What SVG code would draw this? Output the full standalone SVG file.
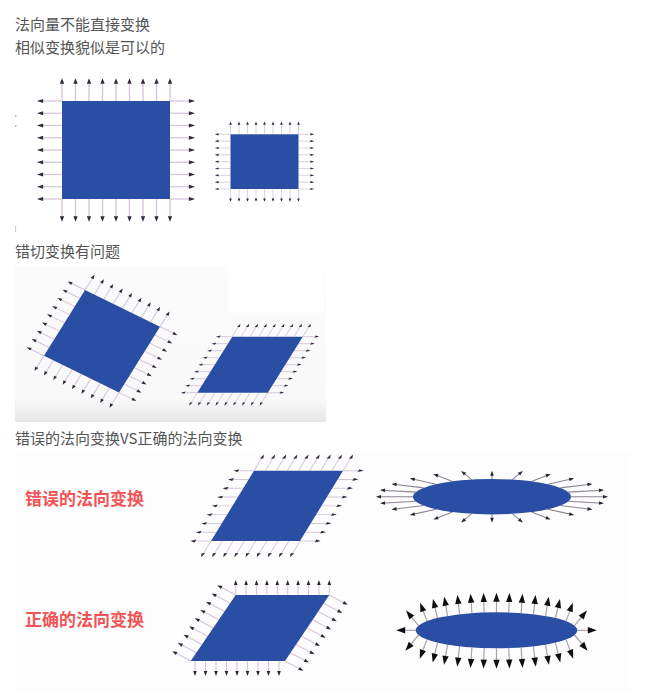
<svg xmlns="http://www.w3.org/2000/svg" xmlns:xlink="http://www.w3.org/1999/xlink" width="651" height="696" viewBox="0 0 651 696">
<style>
.h{font-family:"Noto Sans CJK SC","Noto Sans",sans-serif;font-size:15px;fill:#555}
.lab{font-family:"Noto Sans CJK SC",sans-serif;font-size:17px;font-weight:700;fill:#f25456}
.n line{stroke:#d6c5dc;stroke-width:1.3;marker-end:url(#ah)}
.blue{fill:#2a4ea3}
.we line{stroke:#8d8492;stroke-width:1.1;marker-end:url(#ahw)}
.ce line{stroke:#a9a2ad;stroke-width:1.2;marker-end:url(#ahb)}
.cp line{stroke:#d6c5dc;stroke-width:1.1;marker-end:url(#ahw)}
</style>
<defs>
<marker id="ah" markerUnits="userSpaceOnUse" orient="auto" refX="0" refY="0" markerWidth="10" markerHeight="10" overflow="visible"><path d="M2.2,0 L-3.5,-2 L-3.5,2 Z" fill="#322a3a"/></marker>
<marker id="ahw" markerUnits="userSpaceOnUse" orient="auto" refX="0" refY="0" markerWidth="10" markerHeight="10" overflow="visible"><path d="M2,0 L-3,-1.8 L-3,1.8 Z" fill="#2a2530"/></marker>
<marker id="ahb" markerUnits="userSpaceOnUse" orient="auto" refX="0" refY="0" markerWidth="12" markerHeight="12" overflow="visible"><path d="M3.5,0 L-5.5,-3.2 L-5.5,3.2 Z" fill="#0e0e10"/></marker>
<linearGradient id="bg2" x1="0" y1="0" x2="0" y2="1">
<stop offset="0" stop-color="#fbfbfc"/><stop offset="0.86" stop-color="#f9f9fa"/><stop offset="1" stop-color="#e6e6e8"/>
</linearGradient>
<g id="nsq" class="n">
<line x1="0" y1="0" x2="0" y2="-21"/><line x1="12.5" y1="0" x2="12.5" y2="-21"/><line x1="25" y1="0" x2="25" y2="-21"/><line x1="37.5" y1="0" x2="37.5" y2="-21"/><line x1="50" y1="0" x2="50" y2="-21"/><line x1="62.5" y1="0" x2="62.5" y2="-21"/><line x1="75" y1="0" x2="75" y2="-21"/><line x1="87.5" y1="0" x2="87.5" y2="-21"/><line x1="100" y1="0" x2="100" y2="-21"/>
<line x1="0" y1="100" x2="0" y2="121"/><line x1="12.5" y1="100" x2="12.5" y2="121"/><line x1="25" y1="100" x2="25" y2="121"/><line x1="37.5" y1="100" x2="37.5" y2="121"/><line x1="50" y1="100" x2="50" y2="121"/><line x1="62.5" y1="100" x2="62.5" y2="121"/><line x1="75" y1="100" x2="75" y2="121"/><line x1="87.5" y1="100" x2="87.5" y2="121"/><line x1="100" y1="100" x2="100" y2="121"/>
<line x1="0" y1="0" x2="-21" y2="0"/><line x1="0" y1="12.5" x2="-21" y2="12.5"/><line x1="0" y1="25" x2="-21" y2="25"/><line x1="0" y1="37.5" x2="-21" y2="37.5"/><line x1="0" y1="50" x2="-21" y2="50"/><line x1="0" y1="62.5" x2="-21" y2="62.5"/><line x1="0" y1="75" x2="-21" y2="75"/><line x1="0" y1="87.5" x2="-21" y2="87.5"/><line x1="0" y1="100" x2="-21" y2="100"/>
<line x1="100" y1="0" x2="121" y2="0"/><line x1="100" y1="12.5" x2="121" y2="12.5"/><line x1="100" y1="25" x2="121" y2="25"/><line x1="100" y1="37.5" x2="121" y2="37.5"/><line x1="100" y1="50" x2="121" y2="50"/><line x1="100" y1="62.5" x2="121" y2="62.5"/><line x1="100" y1="75" x2="121" y2="75"/><line x1="100" y1="87.5" x2="121" y2="87.5"/><line x1="100" y1="100" x2="121" y2="100"/>
<rect class="blue" x="0" y="0" width="100" height="100"/>
</g>
</defs>
<rect width="651" height="696" fill="#fff"/>

<text class="h" x="15" y="30">法向量不能直接变换</text>
<text class="h" x="15" y="53">相似变换貌似是可以的</text>

<g id="fig1">
<rect x="15" y="115" width="1.5" height="2" fill="#bbb"/>
<rect x="15" y="125" width="1.5" height="2" fill="#bbb"/>
<rect x="15" y="226" width="1.2" height="6" fill="#ccc"/>
<use id="sq-big" xlink:href="#nsq" transform="matrix(1.08,0,0,0.98,62,101)"/>
<use id="sq-small" xlink:href="#nsq" transform="matrix(0.68,0,0,0.547,230.5,134.3)"/>
</g>

<text class="h" x="15" y="257">错切变换有问题</text>

<g id="fig2">
<rect x="15" y="265" width="311" height="157" fill="url(#bg2)"/>
<rect x="228" y="265" width="97" height="48" fill="#fefefe"/>
<use id="sq-rot" xlink:href="#nsq" transform="matrix(0.75,0.367,-0.41,0.657,85,290)"/>
<use id="sq-shear" xlink:href="#nsq" transform="matrix(0.705,0,-0.35,0.56,232.3,336.7)"/>
</g>

<text class="h" x="15" y="444">错误的法向变换VS正确的法向变换</text>

<g id="fig3">
<rect x="15" y="453" width="614" height="238" fill="#fdfdfd"/>
<text class="lab" x="25" y="505">错误的法向变换</text>
<text class="lab" x="25" y="626">正确的法向变换</text>

<use id="para-wrong" xlink:href="#nsq" transform="matrix(0.89,0,-0.43,0.703,254,470.7)"/>

<g id="ell-wrong" class="we">
<line x1="571" y1="496.7" x2="606" y2="496.7"/>
<line x1="568.3" y1="492.1" x2="602" y2="490.2"/>
<line x1="560.4" y1="487.85" x2="590.5" y2="484.2"/>
<line x1="547.9" y1="484.2" x2="572.2" y2="478.8"/>
<line x1="531.5" y1="481.4" x2="548.8" y2="474.7"/>
<line x1="512.4" y1="479.6" x2="521.3" y2="472.2"/>
<line x1="492" y1="479" x2="492" y2="472.7"/>
<line x1="471.6" y1="479.6" x2="462.7" y2="472.2"/>
<line x1="452.5" y1="481.4" x2="435.2" y2="474.7"/>
<line x1="436.1" y1="484.2" x2="411.8" y2="478.8"/>
<line x1="423.6" y1="487.85" x2="393.5" y2="484.2"/>
<line x1="415.7" y1="492.1" x2="382" y2="490.2"/>
<line x1="413" y1="496.7" x2="378" y2="496.7"/>
<line x1="415.7" y1="501.3" x2="382" y2="503.2"/>
<line x1="423.6" y1="505.55" x2="393.5" y2="509.2"/>
<line x1="436.1" y1="509.2" x2="411.8" y2="514.6"/>
<line x1="452.5" y1="512" x2="435.2" y2="518.7"/>
<line x1="471.6" y1="513.8" x2="462.7" y2="521.2"/>
<line x1="492" y1="514.4" x2="492" y2="520.7"/>
<line x1="512.4" y1="513.8" x2="521.3" y2="521.2"/>
<line x1="531.5" y1="512" x2="548.8" y2="518.7"/>
<line x1="547.9" y1="509.2" x2="572.2" y2="514.6"/>
<line x1="560.4" y1="505.55" x2="590.5" y2="509.2"/>
<line x1="568.3" y1="501.3" x2="602" y2="503.2"/>
<ellipse class="blue" cx="492" cy="496.7" rx="79" ry="17.7"/>
</g>

<g id="para-right" class="cp">
<line x1="235.7" y1="595" x2="235.7" y2="582"/><line x1="246.1" y1="595" x2="246.1" y2="582"/><line x1="256.5" y1="595" x2="256.5" y2="582"/><line x1="266.9" y1="595" x2="266.9" y2="582"/><line x1="277.3" y1="595" x2="277.3" y2="582"/><line x1="287.7" y1="595" x2="287.7" y2="582"/><line x1="298.1" y1="595" x2="298.1" y2="582"/><line x1="308.5" y1="595" x2="308.5" y2="582"/><line x1="318.9" y1="595" x2="318.9" y2="582"/><line x1="329.3" y1="595" x2="329.3" y2="582"/>
<line x1="195" y1="661" x2="195" y2="674"/><line x1="205.5" y1="661" x2="205.5" y2="674"/><line x1="216" y1="661" x2="216" y2="674"/><line x1="226.5" y1="661" x2="226.5" y2="674"/><line x1="237" y1="661" x2="237" y2="674"/><line x1="247.5" y1="661" x2="247.5" y2="674"/><line x1="258" y1="661" x2="258" y2="674"/><line x1="268.5" y1="661" x2="268.5" y2="674"/><line x1="279" y1="661" x2="279" y2="674"/>
<line x1="235.7" y1="595" x2="219" y2="586.1"/><line x1="230.1" y1="603.25" x2="213.4" y2="594.35"/><line x1="224.5" y1="611.5" x2="207.8" y2="602.6"/><line x1="218.8" y1="619.75" x2="202.1" y2="610.85"/><line x1="213.2" y1="628" x2="196.5" y2="619.1"/><line x1="207.6" y1="636.25" x2="190.9" y2="627.35"/><line x1="202" y1="644.5" x2="185.3" y2="635.6"/><line x1="196.3" y1="652.75" x2="179.6" y2="643.85"/><line x1="190.7" y1="661" x2="174" y2="652.1"/>
<line x1="329.3" y1="595" x2="346" y2="603.9"/><line x1="323.8" y1="603.25" x2="340.5" y2="612.15"/><line x1="318.2" y1="611.5" x2="334.9" y2="620.4"/><line x1="312.7" y1="619.75" x2="329.4" y2="628.65"/><line x1="307.2" y1="628" x2="323.9" y2="636.9"/><line x1="301.6" y1="636.25" x2="318.3" y2="645.15"/><line x1="296.1" y1="644.5" x2="312.8" y2="653.4"/><line x1="290.5" y1="652.75" x2="307.2" y2="661.65"/><line x1="285" y1="661" x2="301.7" y2="669.9"/>
<polygon class="blue" points="235.7,595 329.3,595 285,661 190.7,661"/>
</g>

<g id="ell-right" class="ce">
<line x1="496.5" y1="612.3" x2="496.5" y2="596.3"/>
<line x1="508.8" y1="612.51" x2="509.35" y2="596.5"/>
<line x1="484.2" y1="612.51" x2="483.65" y2="596.5"/>
<line x1="521.1" y1="613.16" x2="522.24" y2="597.2"/>
<line x1="471.9" y1="613.16" x2="470.76" y2="597.2"/>
<line x1="533.4" y1="614.29" x2="535.22" y2="598.4"/>
<line x1="459.6" y1="614.29" x2="457.78" y2="598.4"/>
<line x1="545.5" y1="615.99" x2="548.18" y2="600.2"/>
<line x1="447.5" y1="615.99" x2="444.82" y2="600.2"/>
<line x1="555.5" y1="618" x2="559.2" y2="602.4"/>
<line x1="437.5" y1="618" x2="433.8" y2="602.4"/>
<line x1="566" y1="621.12" x2="571.63" y2="606.1"/>
<line x1="427" y1="621.12" x2="421.37" y2="606.1"/>
<line x1="574.5" y1="625.6" x2="584.68" y2="613.25"/>
<line x1="418.5" y1="625.6" x2="408.32" y2="613.25"/>
<line x1="577.3" y1="630.3" x2="593.3" y2="630.3"/>
<line x1="415.7" y1="630.3" x2="399.7" y2="630.3"/>
<line x1="496.5" y1="648.3" x2="496.5" y2="665.3"/>
<line x1="508.8" y1="648.09" x2="509.38" y2="665.08"/>
<line x1="484.2" y1="648.09" x2="483.62" y2="665.08"/>
<line x1="521.1" y1="647.44" x2="522.31" y2="664.4"/>
<line x1="471.9" y1="647.44" x2="470.69" y2="664.4"/>
<line x1="533.4" y1="646.31" x2="535.33" y2="663.2"/>
<line x1="459.6" y1="646.31" x2="457.67" y2="663.2"/>
<line x1="545.5" y1="644.61" x2="548.35" y2="661.37"/>
<line x1="447.5" y1="644.61" x2="444.65" y2="661.37"/>
<line x1="555.5" y1="642.6" x2="559.44" y2="659.14"/>
<line x1="437.5" y1="642.6" x2="433.56" y2="659.14"/>
<line x1="566" y1="639.48" x2="571.98" y2="655.39"/>
<line x1="427" y1="639.48" x2="421.02" y2="655.39"/>
<line x1="574.5" y1="635" x2="585.31" y2="648.12"/>
<line x1="418.5" y1="635" x2="407.69" y2="648.12"/>
<ellipse class="blue" cx="496.5" cy="630.3" rx="80.8" ry="18"/>
</g>
</g>
</svg>
